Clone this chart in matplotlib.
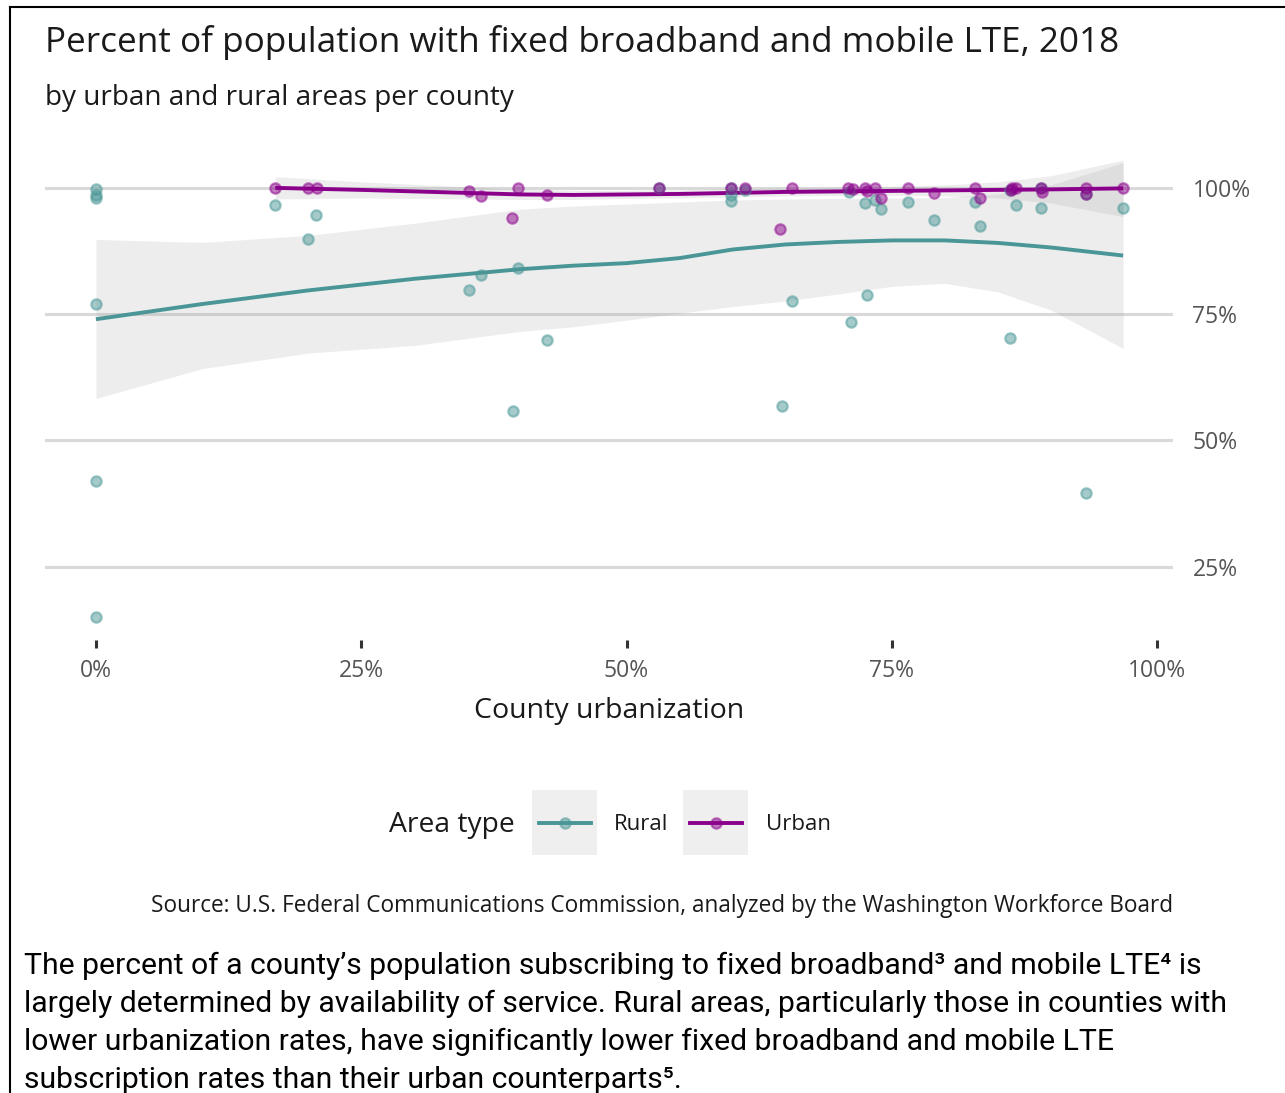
import matplotlib

matplotlib.use("Agg")
import matplotlib.pyplot as plt
from matplotlib.lines import Line2D

W, H = 1285, 1093

TITLE = "Percent of population with fixed broadband and mobile LTE, 2018"
SUBTITLE = "by urban and rural areas per county"
X_LABEL = "County urbanization"
LEGEND_TITLE = "Area type"
SOURCE = "Source: U.S. Federal Communications Commission, analyzed by the Washington Workforce Board"
BODY_LINES = [
    "The percent of a county\u2019s population subscribing to fixed broadband\u00b3 and mobile LTE\u2074 is",
    "largely determined by availability of service. Rural areas, particularly those in counties with",
    "lower urbanization rates, have significantly lower fixed broadband and mobile LTE",
    "subscription rates than their urban counterparts\u2075.",
]

AREA_TYPES = ["Rural", "Urban"]
COLORS = {"Rural": "#4a9696", "Urban": "#8b008b"}

X_TICKS = [0, 25, 50, 75, 100]
Y_TICKS = [25, 50, 75, 100]

# county points: urbanization (%) vs. percent subscribing
rural_x = [0, 0, 0, 0, 0, 0,
           16.9, 20.0, 20.7,
           35.2, 36.3, 39.3, 39.8, 42.5,
           53.1, 59.8, 59.8, 59.8, 61.2,
           64.7, 65.6, 71.0, 71.2, 72.5, 72.7, 73.4, 74.0,
           76.5, 79.0, 82.8, 83.3,
           86.1, 86.1, 86.7, 89.1, 89.1,
           93.3, 93.3, 96.8]
rural_y = [99.7, 98.5, 97.9, 77.0, 41.9, 15.0,
           96.6, 89.9, 94.6,
           79.8, 82.7, 55.8, 84.2, 69.8,
           100.0, 100.0, 98.6, 97.4, 99.5,
           56.8, 77.7, 99.1, 73.5, 97.0, 78.7, 97.6, 95.9,
           97.3, 93.6, 97.3, 92.4,
           99.5, 70.2, 96.6, 100.0, 96.0,
           98.8, 39.6, 96.0]

urban_x = [16.9, 20.0, 20.8,
           35.2, 36.3, 39.2, 39.8, 42.5,
           53.1, 59.8, 61.2,
           64.5, 65.6,
           70.9, 71.3, 72.5, 72.7, 73.4, 74.0,
           76.5, 79.0, 82.8, 83.3,
           86.2, 86.3, 86.7, 89.1, 89.2,
           93.3, 93.3, 96.8]
urban_y = [100.0, 100.0, 100.0,
           99.3, 98.3, 94.1, 100.0, 98.5,
           100.0, 100.0, 100.0,
           91.8, 100.0,
           100.0, 99.8, 100.0, 99.3, 100.0, 98.0,
           100.0, 98.9, 100.0, 98.0,
           99.5, 100.0, 100.0, 100.0, 99.2,
           100.0, 98.8, 100.0]

# smoothed trend and its confidence band
rural_fit_x = [0, 10, 20, 30, 40, 45, 50, 55, 60, 65, 70, 75, 80, 85, 90, 96.8]
rural_fit = [74.0, 77.0, 79.7, 82.0, 83.9, 84.6, 85.1, 86.1, 87.8, 88.8, 89.3, 89.6, 89.6, 89.1, 88.2, 86.6]
rural_lo = [58.3, 64.2, 67.3, 68.8, 71.6, 72.5, 73.8, 75.2, 76.5, 77.6, 79.0, 80.5, 81.1, 79.4, 75.8, 68.2]
rural_hi = [89.8, 89.2, 90.6, 93.0, 95.8, 96.4, 96.8, 97.2, 97.6, 97.8, 97.9, 98.0, 98.1, 98.8, 100.6, 105.0]

urban_fit_x = [16.9, 25, 30, 35, 40, 45, 50, 55, 60, 65, 70, 75, 80, 85, 90, 96.8]
urban_fit = [100.0, 99.6, 99.3, 99.0, 98.7, 98.6, 98.7, 98.8, 99.0, 99.2, 99.3, 99.4, 99.5, 99.6, 99.7, 99.9]
urban_lo = [97.8, 98.0, 97.9, 97.8, 97.7, 97.7, 97.9, 98.0, 98.2, 98.4, 98.5, 98.5, 98.4, 98.0, 97.0, 94.3]
urban_hi = [102.2, 101.2, 100.7, 100.2, 99.7, 99.5, 99.5, 99.6, 99.8, 100.0, 100.1, 100.3, 100.6, 101.2, 102.4, 105.5]

CHART_FONT = ["Open Sans", "DejaVu Sans"]
BODY_FONT = ["Roboto", "DejaVu Sans"]

MARKER_SIZE = 56


def fx(px):
    return px / W


def fy(py):
    return 1 - py / H


def fit_width(fig, texts, target_px):
    # scale the font so the widest text spans target_px
    renderer = fig.canvas.get_renderer()
    widest = max(t.get_window_extent(renderer).width for t in texts)
    for t in texts:
        t.set_fontsize(t.get_fontsize() * target_px / widest)


def main():
    plt.rcParams["font.family"] = CHART_FONT
    fig = plt.figure(figsize=(W / 100, H / 100), dpi=100)
    fig.patch.set_facecolor("white")

    ax = fig.add_axes([fx(45), fy(640), fx(1173) - fx(45), fy(152) - fy(640)])
    ax.set_xlim(-4.8, 101.5)
    ax.set_ylim(10.5, 107.1)

    for y in Y_TICKS:
        ax.axhline(y, color="#d9d9d9", lw=2.2, zorder=0)

    series = {
        "Rural": (rural_x, rural_y, rural_fit_x, rural_fit, rural_lo, rural_hi),
        "Urban": (urban_x, urban_y, urban_fit_x, urban_fit, urban_lo, urban_hi),
    }
    for name in AREA_TYPES:
        xs, ys, fxs, fit, lo, hi = series[name]
        c = COLORS[name]
        ax.fill_between(fxs, lo, hi, color="#999999", alpha=0.17, lw=0, zorder=1)
        ax.plot(fxs, fit, color=c, lw=2.8, zorder=3, solid_capstyle="butt")
        ax.scatter(xs, ys, s=MARKER_SIZE, color=c, alpha=0.5, linewidths=1.6, zorder=4)

    for side in ["top", "right", "left", "bottom"]:
        ax.spines[side].set_visible(False)
    ax.set_facecolor("none")

    ax.set_xticks(X_TICKS)
    ax.set_xticklabels([f"{t}%" for t in X_TICKS])
    ax.tick_params(axis="x", direction="out", length=6, width=2.2, color="#333333",
                   labelsize=16.5, labelcolor="#555555", pad=8)
    ax.yaxis.tick_right()
    ax.set_yticks(Y_TICKS)
    ax.set_yticklabels([f"{t}%" for t in Y_TICKS])
    ax.tick_params(axis="y", length=0, labelsize=16.5, labelcolor="#555555", pad=14)

    ax.set_xlabel(X_LABEL, fontsize=20.5, color="#1a1a1a", labelpad=10)

    title = fig.text(fx(45), fy(43), TITLE, fontsize=25, color="#1a1a1a", va="center", ha="left")
    sub = fig.text(fx(45), fy(98), SUBTITLE, fontsize=20, color="#1a1a1a", va="center", ha="left")

    # legend drawn by hand: title on the left, grey key boxes
    fig.text(fx(389), fy(825), LEGEND_TITLE, fontsize=20.3, color="#1a1a1a", va="center", ha="left")
    label_x = {"Rural": 614, "Urban": 766}
    box_x = {"Rural": 532, "Urban": 683}
    for name in AREA_TYPES:
        kax = fig.add_axes([fx(box_x[name]), fy(855), 65 / W, 65 / H])
        kax.set_facecolor("#efefef")
        kax.set_xlim(0, 1)
        kax.set_ylim(0, 1)
        kax.set_xticks([])
        kax.set_yticks([])
        for s in kax.spines.values():
            s.set_visible(False)
        kax.add_line(Line2D([0.1, 0.9], [0.5, 0.5], color=COLORS[name], lw=2.8))
        kax.scatter([0.5], [0.5], s=MARKER_SIZE, color=COLORS[name], alpha=0.5, linewidths=1.6)
        fig.text(fx(label_x[name]), fy(824), name, fontsize=16, color="#1a1a1a",
                 va="center", ha="left")

    src = fig.text(fx(1173), fy(906), SOURCE, fontsize=16, color="#1a1a1a", va="center", ha="right")

    body = []
    for i, line in enumerate(BODY_LINES):
        body.append(fig.text(fx(24), fy(966 + 38 * i), line, fontsize=20, color="black",
                             va="center", ha="left", family=BODY_FONT))

    fit_width(fig, [title], 1073)
    fit_width(fig, [sub], 467)
    fit_width(fig, [src], 1027)
    fit_width(fig, body, 1198)

    # page frame, top and left edges
    fig.add_artist(Line2D([fx(10), 1], [fy(7), fy(7)], transform=fig.transFigure, color="black", lw=1.5))
    fig.add_artist(Line2D([fx(10), fx(10)], [0, fy(7)], transform=fig.transFigure, color="black", lw=1.5))

    fig.savefig("out.png", dpi=100)


if __name__ == "__main__":
    main()
